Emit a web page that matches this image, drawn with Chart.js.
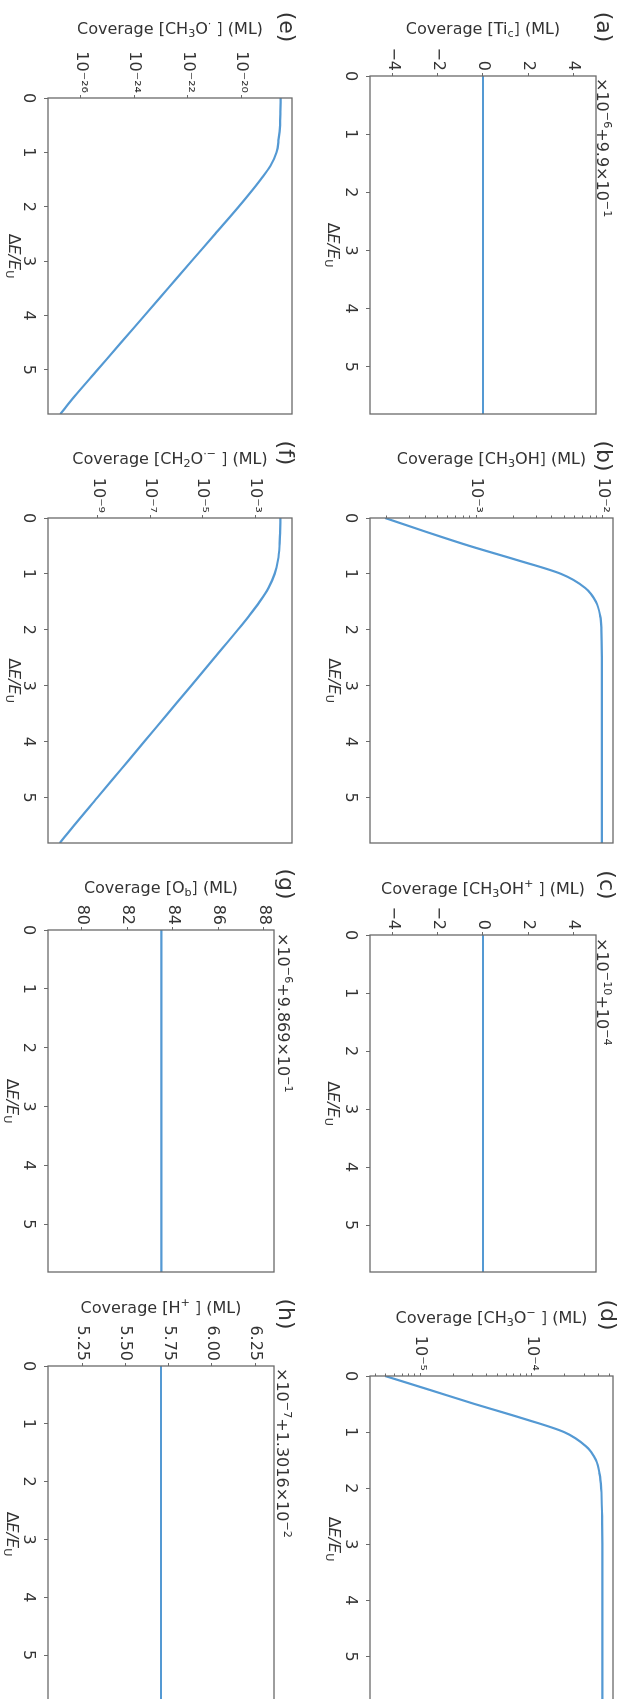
<!DOCTYPE html>
<html>
<head>
<meta charset="utf-8">
<script src="https://cdn.jsdelivr.net/npm/chart.js@4.4.1/dist/chart.umd.min.js"></script>
<style>
  html, body { margin: 0; padding: 0; background: #fff; overflow: hidden; width: 627px; height: 1699px; }
  /* the 4x2 figure is laid out landscape, then turned a quarter turn clockwise */
  #fig { position: absolute; left: 0; top: 0; width: 1699px; height: 627px; background: #fff; overflow: hidden;
         transform-origin: 0 0; transform: translate(627px, 0) rotate(90deg); }
  #fig canvas { position: absolute; }
</style>
</head>
<body>
<div id="fig"></div>
<script>
// ---- data -------------------------------------------------------------
// ΔE/E_U sample points shared by every panel
const deltaE = [0, 0.25, 0.5, 0.75, 1.0, 1.25, 1.5, 1.75, 2.0, 2.5, 3.0, 3.5, 4.0, 4.5, 5.0, 5.5, 5.81];

// coverages (ML)
const covTiC = [0.99, 0.99, 0.99, 0.99, 0.99, 0.99, 0.99, 0.99, 0.99, 0.99, 0.99, 0.99, 0.99, 0.99, 0.99, 0.99, 0.99];
const covCH3OH = [1.92e-4, 4.07e-4, 8.91e-4, 2.09e-3, 4.68e-3, 7.24e-3, 8.81e-3, 9.51e-3, 9.73e-3, 9.82e-3, 9.82e-3, 9.82e-3, 9.82e-3, 9.82e-3, 9.82e-3, 9.82e-3, 9.82e-3];
const covCH3OHplus = [1e-4, 1e-4, 1e-4, 1e-4, 1e-4, 1e-4, 1e-4, 1e-4, 1e-4, 1e-4, 1e-4, 1e-4, 1e-4, 1e-4, 1e-4, 1e-4, 1e-4];
const covCH3Ominus = [4.86e-6, 1.23e-5, 3.09e-5, 8.13e-5, 1.95e-4, 3.05e-4, 3.76e-4, 4.06e-4, 4.19e-4, 4.27e-4, 4.29e-4, 4.29e-4, 4.29e-4, 4.29e-4, 4.29e-4, 4.29e-4, 4.29e-4];
const covCH3Orad = [2.95e-19, 2.92e-19, 2.82e-19, 2.51e-19, 2.09e-19, 1.23e-19, 5.25e-20, 2.09e-20, 7.94e-21, 1.05e-21, 1.38e-22, 1.82e-23, 2.40e-24, 3.16e-25, 4.17e-26, 5.50e-27, 1.70e-27];
const covCH2Orad = [9.23e-3, 9.06e-3, 8.59e-3, 7.52e-3, 5.57e-3, 3.24e-3, 1.48e-3, 5.89e-4, 2.19e-4, 2.82e-5, 3.63e-6, 4.62e-7, 5.89e-8, 7.50e-9, 9.55e-10, 1.22e-10, 3.55e-11];
const covOb = [0.9869835, 0.9869835, 0.9869835, 0.9869835, 0.9869835, 0.9869835, 0.9869835, 0.9869835, 0.9869835, 0.9869835, 0.9869835, 0.9869835, 0.9869835, 0.9869835, 0.9869835, 0.9869835, 0.9869835];
const covHplus = [0.0130165705, 0.0130165705, 0.0130165705, 0.0130165705, 0.0130165705, 0.0130165705, 0.0130165705, 0.0130165705, 0.0130165705, 0.0130165705, 0.0130165705, 0.0130165705, 0.0130165705, 0.0130165705, 0.0130165705, 0.0130165705, 0.0130165705];

// ticks
const xTicks = [0, 1, 2, 3, 4, 5];
const xTickLabels = ['0', '1', '2', '3', '4', '5'];
const tiCTicks = [-4, -2, 0, 2, 4];            // ×1e-6 + 9.9e-1
const tiCTickLabels = ['−4', '−2', '0', '2', '4'];
const ch3ohTicks = [1e-3, 1e-2];
const ch3ohTickLabels = ['10⁻³', '10⁻²'];
const ch3ohPlusTicks = [-4, -2, 0, 2, 4];       // ×1e-10 + 1e-4
const ch3ohPlusTickLabels = ['−4', '−2', '0', '2', '4'];
const ch3oMinusTicks = [1e-5, 1e-4];
const ch3oMinusTickLabels = ['10⁻⁵', '10⁻⁴'];
const ch3oRadTicks = [1e-26, 1e-24, 1e-22, 1e-20];
const ch3oRadTickLabels = ['10⁻²⁶', '10⁻²⁴', '10⁻²²', '10⁻²⁰'];
const ch2oRadTicks = [1e-9, 1e-7, 1e-5, 1e-3];
const ch2oRadTickLabels = ['10⁻⁹', '10⁻⁷', '10⁻⁵', '10⁻³'];
const obTicks = [80, 82, 84, 86, 88];           // ×1e-6 + 9.869e-1
const obTickLabels = ['80', '82', '84', '86', '88'];
const hPlusTicks = [5.25, 5.5, 5.75, 6.0, 6.25]; // ×1e-7 + 1.3016e-2
const hPlusTickLabels = ['5.25', '5.50', '5.75', '6.00', '6.25'];

// ---- styling ----------------------------------------------------------
const FONT = 'DejaVu Sans';
const TEXT = '#333333';
const AXIS = '#6a6a6a';
const LINE = '#5499d3';
const FS = 16;

Chart.defaults.font.family = FONT;
Chart.defaults.color = TEXT;

// rich text pieces: {t, sub, sup, it}
function segFont(s, size) {
  const sz = (s.sub || s.sup) ? size * 0.7 : size;
  return (s.it ? 'italic ' : '') + sz + 'px "' + FONT + '"';
}
function richWidth(ctx, segs, size) {
  let w = 0;
  for (const s of segs) { ctx.font = segFont(s, size); w += ctx.measureText(s.t).width; }
  return w;
}
function drawRich(ctx, segs, x, cy, size, align) {
  const w = richWidth(ctx, segs, size);
  let cx = align === 'center' ? x - w / 2 : x;
  const base = cy + size * 0.36;
  ctx.textBaseline = 'alphabetic';
  ctx.textAlign = 'left';
  for (const s of segs) {
    ctx.font = segFont(s, size);
    const dy = s.sup ? -size * 0.42 : (s.sub ? size * 0.2 : 0);
    ctx.fillText(s.t, cx, base + dy);
    cx += ctx.measureText(s.t).width;
  }
}

const xTitle = [{t: 'Δ'}, {t: 'E/E', it: true}, {t: 'U', sub: true}];

// panel frames in figure coordinates (landscape, before the turn)
const cols = [[0, 440], [440, 870], [870, 1290], [1290, 1710]];
const rows = [[0, 313], [313, 627]];

const panels = [
  { tag: '(a)', col: 0, row: 0, box: [76, 31, 414, 257], log: false,
    values: covTiC, yMin: 0.99 - 5.02e-6, yMax: 0.99 + 5.02e-6,
    ticks: tiCTicks.map(t => 0.99 + t * 1e-6), tickLabels: tiCTickLabels,
    yTitle: [{t: 'Coverage [Ti'}, {t: 'c', sub: true}, {t: '] (ML)'}],
    yTitleX: 28, xTitleY: 293, tagPos: [27, 24],
    offset: [{t: '×10'}, {t: '−6', sup: true}, {t: '+9.9×10'}, {t: '−1', sup: true}], offsetPos: [78, 24] },
  { tag: '(b)', col: 1, row: 0, box: [518, 14, 843, 257], log: true, minor: true,
    values: covCH3OH, yMin: 1.46e-4, yMax: 1.2e-2,
    ticks: ch3ohTicks, tickLabels: ch3ohTickLabels,
    yTitle: [{t: 'Coverage [CH'}, {t: '3', sub: true}, {t: 'OH] (ML)'}],
    yTitleX: 458, xTitleY: 292, tagPos: [456, 24] },
  { tag: '(c)', col: 2, row: 0, box: [935, 31, 1272, 257], log: false,
    values: covCH3OHplus, yMin: 1e-4 - 5.02e-10, yMax: 1e-4 + 5.02e-10,
    ticks: ch3ohPlusTicks.map(t => 1e-4 + t * 1e-10), tickLabels: ch3ohPlusTickLabels,
    yTitle: [{t: 'Coverage [CH'}, {t: '3', sub: true}, {t: 'OH'}, {t: '+', sup: true}, {t: ' ] (ML)'}],
    yTitleX: 888, xTitleY: 293, tagPos: [885, 21],
    offset: [{t: '×10'}, {t: '−10', sup: true}, {t: '+10'}, {t: '−4', sup: true}], offsetPos: [938, 24] },
  { tag: '(d)', col: 3, row: 0, box: [1376, 14, 1702, 257], log: true, minor: true,
    values: covCH3Ominus, yMin: 3.56e-6, yMax: 5.35e-4,
    ticks: ch3oMinusTicks, tickLabels: ch3oMinusTickLabels,
    yTitle: [{t: 'Coverage [CH'}, {t: '3', sub: true}, {t: 'O'}, {t: '−', sup: true}, {t: ' ] (ML)'}],
    yTitleX: 1317, xTitleY: 292, tagPos: [1315, 20] },
  { tag: '(e)', col: 0, row: 1, box: [98, 335, 414, 579], log: true,
    values: covCH3Orad, yMin: 5.9e-28, yMax: 7.9e-19,
    ticks: ch3oRadTicks, tickLabels: ch3oRadTickLabels,
    yTitle: [{t: 'Coverage [CH'}, {t: '3', sub: true}, {t: 'O'}, {t: '·', sup: true}, {t: ' ] (ML)'}],
    yTitleX: 28, xTitleY: 612, tagPos: [27, 341] },
  { tag: '(f)', col: 1, row: 1, box: [518, 335, 843, 579], log: true,
    values: covCH2Orad, yMin: 1.26e-11, yMax: 2.57e-2,
    ticks: ch2oRadTicks, tickLabels: ch2oRadTickLabels,
    yTitle: [{t: 'Coverage [CH'}, {t: '2', sub: true}, {t: 'O'}, {t: '·−', sup: true}, {t: ' ] (ML)'}],
    yTitleX: 458, xTitleY: 612, tagPos: [453, 342] },
  { tag: '(g)', col: 2, row: 1, box: [930, 353, 1272, 579], log: false,
    values: covOb, yMin: 0.9869 + 78.52e-6, yMax: 0.9869 + 88.44e-6,
    ticks: obTicks.map(t => 0.9869 + t * 1e-6), tickLabels: obTickLabels,
    yTitle: [{t: 'Coverage [O'}, {t: 'b', sub: true}, {t: '] (ML)'}],
    yTitleX: 887, xTitleY: 614, tagPos: [884, 342],
    offset: [{t: '×10'}, {t: '−6', sup: true}, {t: '+9.869×10'}, {t: '−1', sup: true}], offsetPos: [933, 343] },
  { tag: '(h)', col: 3, row: 1, box: [1366, 353, 1702, 579], log: false,
    values: covHplus, yMin: 0.013016 + 5.05e-7, yMax: 0.013016 + 6.36e-7,
    ticks: hPlusTicks.map(t => 0.013016 + t * 1e-7), tickLabels: hPlusTickLabels,
    yTitle: [{t: 'Coverage [H'}, {t: '+', sup: true}, {t: ' ] (ML)'}],
    yTitleX: 1307, xTitleY: 614, tagPos: [1314, 342],
    offset: [{t: '×10'}, {t: '−7', sup: true}, {t: '+1.3016×10'}, {t: '−2', sup: true}], offsetPos: [1368, 344] }
];

// frame, minor log ticks, axis titles, offset text and panel tag
const decor = {
  id: 'decor',
  afterDraw(chart, args, p) {
    const ctx = chart.ctx;
    const a = chart.chartArea;
    const ox = p._cell[0], oy = p._cell[1];
    ctx.save();
    // minor ticks on the short log axes
    if (p.minor) {
      const ys = chart.scales.y;
      ctx.strokeStyle = AXIS; ctx.lineWidth = 1;
      for (let e = -8; e < 1; e++) {
        for (let m = 2; m <= 9; m++) {
          const v = m * Math.pow(10, e);
          if (v <= ys.min || v >= ys.max) continue;
          const py = Math.round(ys.getPixelForValue(v)) + 0.5;
          ctx.beginPath(); ctx.moveTo(a.left - 2.5, py); ctx.lineTo(a.left, py); ctx.stroke();
        }
      }
    }
    // axes frame
    ctx.strokeStyle = AXIS; ctx.lineWidth = 1.3;
    ctx.strokeRect(a.left, a.top, a.right - a.left, a.bottom - a.top);
    ctx.fillStyle = TEXT;
    // y title, written upwards
    ctx.save();
    ctx.translate(p.yTitleX - ox, (a.top + a.bottom) / 2);
    ctx.rotate(-Math.PI / 2);
    drawRich(ctx, p.yTitle, 0, 0, FS, 'center');
    ctx.restore();
    // x title
    drawRich(ctx, xTitle, (a.left + a.right) / 2, p.xTitleY - oy, FS, 'center');
    // offset text above the y axis
    if (p.offset) drawRich(ctx, p.offset, p.offsetPos[0] - ox, p.offsetPos[1] - oy, FS, 'left');
    // panel tag
    ctx.font = '22px "' + FONT + '"';
    ctx.textAlign = 'center'; ctx.textBaseline = 'middle';
    ctx.fillText(p.tag, p.tagPos[0] - ox, p.tagPos[1] - oy);
    ctx.restore();
  }
};

const fig = document.getElementById('fig');
for (const p of panels) {
  const [cx0, cx1] = cols[p.col];
  const [cy0, cy1] = rows[p.row];
  const W = cx1 - cx0, H = cy1 - cy0;
  const [bl, bt, br, bb] = p.box;
  const cv = document.createElement('canvas');
  cv.width = W; cv.height = H;
  cv.style.left = cx0 + 'px'; cv.style.top = cy0 + 'px';
  cv.style.width = W + 'px'; cv.style.height = H + 'px';
  fig.appendChild(cv);
  p._cell = [cx0, cy0];

  new Chart(cv, {
    type: 'line',
    data: {
      datasets: [{
        data: deltaE.map((x, i) => ({ x: x, y: p.values[i] })),
        borderColor: LINE, borderWidth: 2.2, pointRadius: 0, fill: false,
        cubicInterpolationMode: 'monotone'
      }]
    },
    options: {
      responsive: false, animation: false, devicePixelRatio: 1,
      layout: { padding: { left: 0, top: bt - cy0, right: cx1 - br, bottom: 0 } },
      plugins: { legend: { display: false }, tooltip: { enabled: false }, decor: p },
      scales: {
        x: {
          type: 'linear', min: 0, max: 5.81,
          afterBuildTicks: s => { s.ticks = xTicks.map(v => ({ value: v })); },
          afterFit: s => { s.height = cy1 - bb; s.paddingLeft = 0; s.paddingRight = 0; },
          ticks: { callback: (v, i) => xTickLabels[i], autoSkip: false, maxRotation: 0,
                   padding: 6, color: TEXT, font: { size: FS, family: FONT } },
          grid: { drawOnChartArea: false, drawTicks: true, tickLength: 4, tickColor: AXIS, tickWidth: 1 },
          border: { display: false }
        },
        y: {
          type: p.log ? 'logarithmic' : 'linear', min: p.yMin, max: p.yMax,
          afterBuildTicks: s => { s.ticks = p.ticks.map(v => ({ value: v })); },
          afterFit: s => { s.width = bl - cx0; s.paddingTop = 0; s.paddingBottom = 0; },
          ticks: { callback: (v, i) => p.tickLabels[i], autoSkip: false,
                   padding: 2, color: TEXT, font: { size: FS, family: FONT } },
          grid: { drawOnChartArea: false, drawTicks: true, tickLength: 3, tickColor: AXIS, tickWidth: 1 },
          border: { display: false }
        }
      }
    },
    plugins: [decor]
  });
}
</script>
</body>
</html>
